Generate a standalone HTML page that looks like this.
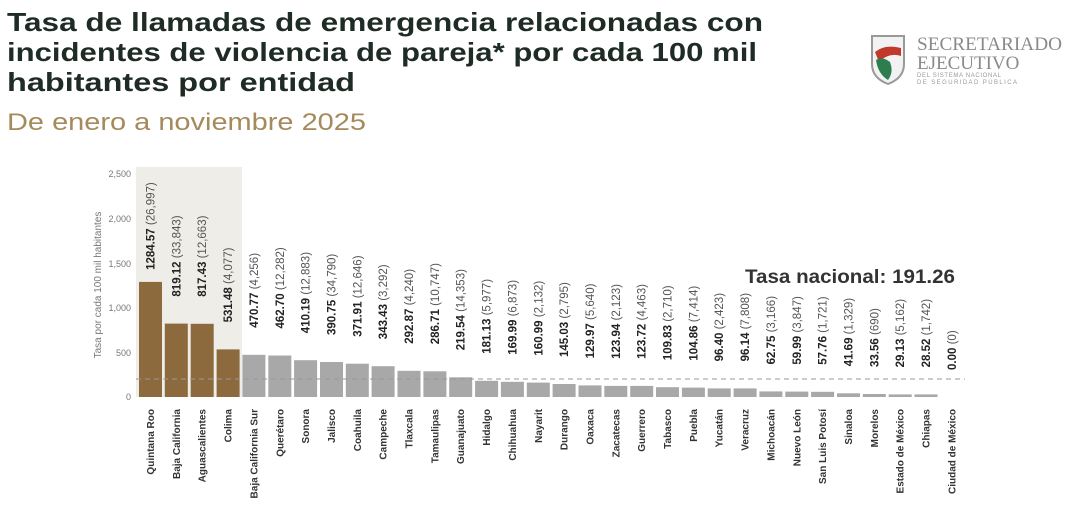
<!DOCTYPE html>
<html><head><meta charset="utf-8"><style>
body{margin:0;background:#fff;width:1068px;height:514px;overflow:hidden;font-family:"Liberation Sans",sans-serif}
</style></head><body>
<svg width="1068" height="514" xmlns="http://www.w3.org/2000/svg" font-family="Liberation Sans, sans-serif">
<text x="7" y="31" font-size="26" font-weight="bold" fill="#1f2b25" textLength="756" lengthAdjust="spacingAndGlyphs">Tasa de llamadas de emergencia relacionadas con</text>
<text x="7" y="61" font-size="26" font-weight="bold" fill="#1f2b25" textLength="750" lengthAdjust="spacingAndGlyphs">incidentes de violencia de pareja* por cada 100 mil</text>
<text x="7" y="91" font-size="26" font-weight="bold" fill="#1f2b25" textLength="348" lengthAdjust="spacingAndGlyphs">habitantes por entidad</text>
<text x="7" y="130" font-size="24" fill="#a58a5c" textLength="359" lengthAdjust="spacingAndGlyphs">De enero a noviembre 2025</text>
<g>
<path d="M872 36 h32 v28 q0 14 -16 20 q-16 -6 -16 -20z" fill="#f2f2f2" stroke="#999" stroke-width="2"/>
<path d="M875 52 q10 -8 26 -4 v8 q-12 -4 -22 6z" fill="#c0392b"/>
<path d="M876 60 q6 -4 14 2 q4 10 -2 18 q-10 -6 -12 -20z" fill="#2e7d4f"/>
<text x="917" y="50" font-size="19" font-family="Liberation Serif, serif" fill="#8a8a8a" textLength="145" lengthAdjust="spacingAndGlyphs">SECRETARIADO</text>
<text x="917" y="69" font-size="19" font-family="Liberation Serif, serif" fill="#8a8a8a">EJECUTIVO</text>
<text x="917" y="77" font-size="6" fill="#999" textLength="84">DEL SISTEMA NACIONAL</text>
<text x="917" y="84" font-size="6" fill="#999" textLength="100">DE SEGURIDAD PÚBLICA</text>
</g>
<rect x="136" y="167" width="106" height="230" fill="#efede8"/>
<g font-size="9" fill="#777" text-anchor="end">
<text x="131" y="177">2,500</text><text x="131" y="222">2,000</text><text x="131" y="267">1,500</text>
<text x="131" y="311">1,000</text><text x="131" y="356">500</text><text x="131" y="400">0</text>
</g>
<text transform="translate(101,285) rotate(-90)" font-size="10" fill="#777" text-anchor="middle">Tasa por cada 100 mil habitantes</text>
<g id="bars"></g>
<line x1="136" y1="379" x2="965" y2="379" stroke="#999" stroke-dasharray="5,4" stroke-width="1"/>
<text x="745" y="283" font-size="19" font-weight="bold" fill="#333" textLength="210" lengthAdjust="spacingAndGlyphs">Tasa nacional: 191.26</text>
</svg>
<script>
var d=[["Quintana Roo",1284.57,"26,997"],["Baja California",819.12,"33,843"],["Aguascalientes",817.43,"12,663"],["Colima",531.48,"4,077"],["Baja California Sur",470.77,"4,256"],["Querétaro",462.70,"12,282"],["Sonora",410.19,"12,883"],["Jalisco",390.75,"34,790"],["Coahuila",371.91,"12,646"],["Campeche",343.43,"3,292"],["Tlaxcala",292.87,"4,240"],["Tamaulipas",286.71,"10,747"],["Guanajuato",219.54,"14,353"],["Hidalgo",181.13,"5,977"],["Chihuahua",169.99,"6,873"],["Nayarit",160.99,"2,132"],["Durango",145.03,"2,795"],["Oaxaca",129.97,"5,640"],["Zacatecas",123.94,"2,123"],["Guerrero",123.72,"4,463"],["Tabasco",109.83,"2,710"],["Puebla",104.86,"7,414"],["Yucatán",96.40,"2,423"],["Veracruz",96.14,"7,808"],["Michoacán",62.75,"3,166"],["Nuevo León",59.99,"3,847"],["San Luis Potosí",57.76,"1,721"],["Sinaloa",41.69,"1,329"],["Morelos",33.56,"690"],["Estado de México",29.13,"5,162"],["Chiapas",28.52,"1,742"],["Ciudad de México",0.00,"0"]];
var g=document.getElementById("bars"),s="";
d.forEach(function(e,i){var x=139+i*25.85,h=e[1]*0.0896,t=397-h,c=x+11.5;
s+='<rect x="'+x.toFixed(1)+'" y="'+t.toFixed(1)+'" width="23" height="'+h.toFixed(1)+'" fill="'+(i<4?'#8c6a3e':'#a8a8a8')+'"/>';
var lb=i==0?t-12:t-27;
s+='<text transform="translate('+(c+4)+','+lb.toFixed(1)+') rotate(-90)" font-size="11.5" fill="#222"><tspan font-weight="bold">'+e[1].toFixed(2)+'</tspan> <tspan fill="#555">('+e[2]+')</tspan></text>';
s+='<text transform="translate('+(c+3.5)+',409) rotate(-90)" font-size="10" font-weight="bold" fill="#333" text-anchor="end">'+e[0]+'</text>';});
g.innerHTML=s;
</script>
</body></html>
